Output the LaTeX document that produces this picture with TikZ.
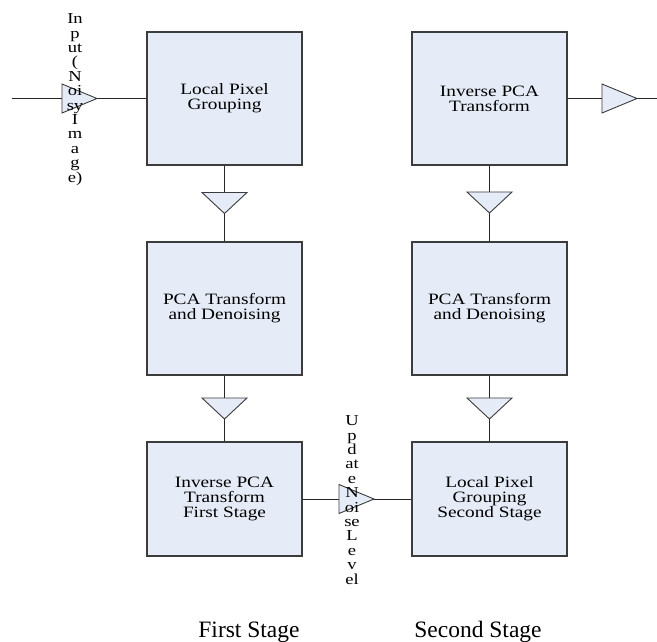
\documentclass[tikz,border=0pt]{standalone}
\usepackage{fontspec}
\newfontfamily\boxfont[FakeStretch=1.22]{Liberation Serif}
\newfontfamily\capfont{Liberation Serif}
\definecolor{boxfill}{RGB}{230,236,247}
\definecolor{edge}{RGB}{60,60,60}
\begin{document}
\begin{tikzpicture}[x=1pt,y=-1pt,
  stage/.style={draw=edge, line width=1.2pt, fill=boxfill,
    minimum width=155pt, minimum height=133pt, inner sep=0pt,
    align=center, font=\boxfont\fontsize{15.8}{15}\selectfont},
  shortstage/.style={stage, minimum height=114pt},
  wire/.style={draw=black!85, line width=1pt},
  tri/.style={draw=edge, fill=boxfill, line width=0.9pt, line join=miter},
  vlabel/.style={inner sep=0pt, align=center,
    font=\boxfont\fontsize{15.2}{14.4}\selectfont},
  caption/.style={inner sep=0pt, anchor=base, font=\capfont\fontsize{23.5}{26}\selectfont},
  tridown/.pic={\path[tri] (-22.5,-10.5) -- (22.5,-10.5) -- (0,10.5) -- cycle;},
  triright/.pic={\path[tri] (-17.5,-14.5) -- (-17.5,14.5) -- (17.5,0) -- cycle;}
]
% page
\fill[white] (0,0) rectangle (657,641);
\useasboundingbox (0,0) rectangle (657,641);

% first stage column
\node[stage] (lpg)   at (224.5,98.5)  {Local Pixel\\Grouping};
\node[stage] (pca1)  at (224.5,308.5) {PCA Transform\\and Denoising};
\node[shortstage] (ipca1) at (224.5,499) {Inverse PCA\\Transform\\First Stage};

% second stage column
\node[stage] (ipca2) at (489.5,98.5)  {Inverse PCA\\Transform};
\node[stage] (pca2)  at (489.5,308.5) {PCA Transform\\and Denoising};
\node[shortstage] (lpg2) at (489.5,499) {Local Pixel\\Grouping\\Second Stage};

% free ends of the input and output lines
\coordinate (in)  at (12,98.5);
\coordinate (out) at (657,98.5);

% connectors
\draw[wire] (in) -- (lpg.west);
\draw[wire] (lpg) -- (pca1);
\draw[wire] (pca1) -- (ipca1);
\draw[wire] (ipca1) -- (lpg2);
\draw[wire] (ipca2) -- (pca2);
\draw[wire] (pca2) -- (lpg2);
\draw[wire] (ipca2.east) -- (out);

% buffer triangles on the connectors
\pic at (79.5,98.5)   {triright};
\pic at (224.5,203)   {tridown};
\pic at (224.5,408.5) {tridown};
\pic at (356.5,499)   {triright};
\pic at (489.5,202.5) {tridown};
\pic at (489.5,408.5) {tridown};
\pic at (619.5,98.5)  {triright};

% stacked labels of the input and the feedback line
\node[vlabel] (inlabel) at (75,99.5)
  {In\\p\\ut\\(\\N\\oi\\sy\\I\\m\\a\\g\\e)};
\node[vlabel] (updlabel) at (352,500)
  {U\\p\\d\\at\\e\\N\\oi\\se\\L\\e\\v\\el};

% stage captions
\node[caption] (cap1) at (249,637) {First Stage};
\node[caption] (cap2) at (478,637) {Second Stage};
\end{tikzpicture}
\end{document}
